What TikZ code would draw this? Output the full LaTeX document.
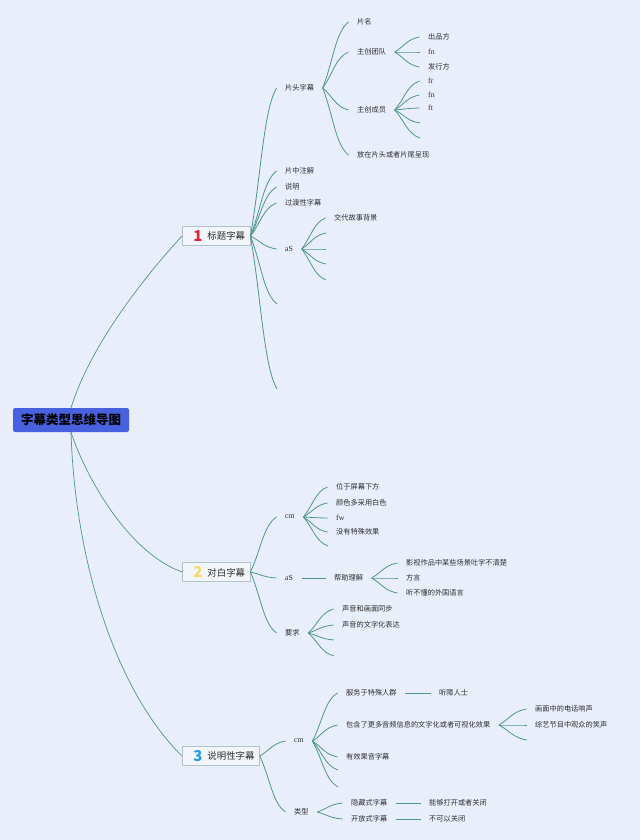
\documentclass[tikz,border=0pt]{standalone}
\usepackage{fontspec}
\setmainfont{Noto Sans CJK SC}
\newfontfamily\lat{Liberation Serif}
\usetikzlibrary{calc}
\definecolor{bg}{HTML}{E9EEFB}
\definecolor{ln}{HTML}{4E968C}
\definecolor{tx}{HTML}{2E2E2E}
\definecolor{rootc}{HTML}{4862DF}
\definecolor{boxf}{HTML}{F2F5FA}
\definecolor{boxd}{HTML}{B3C0CE}
\definecolor{one}{HTML}{E8213A}
\definecolor{two}{HTML}{F5D867}
\definecolor{three}{HTML}{2B9BE3}
\newcommand\numd[2]{\textcolor{#1}{\fontsize{15}{15}\selectfont\bfseries #2}}
\newcommand\boxlab[3]{\kern11pt\numd{#1}{#2}\kern5pt\raisebox{1.5pt}{#3}\kern5pt}
\tikzset{
 leaf/.style={anchor=west, inner xsep=8.5pt, inner ysep=1pt, font=\fontsize{7.2}{8}\selectfont, text=tx},
 latf/.style={leaf, font=\fontsize{7.8}{8}\selectfont\lat},
 mbox/.style={anchor=west, draw=boxd, fill=boxf, line width=0.7pt, minimum height=19pt, inner xsep=0pt, inner ysep=0pt, font=\fontsize{9.4}{10}\selectfont, text=tx},
 rootbox/.style={fill=rootc, rounded corners=2pt, inner xsep=8pt, inner ysep=0pt, minimum height=24pt, minimum width=116pt, font=\fontsize{12.5}{13}\selectfont\bfseries, text=black},
 link/.style={draw=ln, line width=0.8pt},
 rlink/.style={draw=ln, line width=0.7pt},
 br/.style={to path={let \p1=(\tikztostart), \p2=(\tikztotarget) in .. controls ({\x1+0.4*(\x2-\x1)},{\y1+0.4*(\y2-\y1)}) and ({\x2-0.5*(\x2-\x1)},{\y2-0.15*(\y2-\y1)}) .. (\tikztotarget)}}
}
\begin{document}
\begin{tikzpicture}[x=1pt,y=-1pt]
\fill[bg] (0,0) rectangle (640,840);
\useasboundingbox (0,0) rectangle (640,840);

% root and main boxes
\node[rootbox] (root) at (71,420) {字幕类型思维导图};
\node[mbox] (b1) at (182,236) {\boxlab{one}{1}{标题字幕}};
\node[mbox] (b2) at (182,572) {\boxlab{two}{2}{对白字幕}};
\node[mbox] (b3) at (182,756) {\boxlab{three}{3}{说明性字幕}};

% branch 1
\node[leaf] (a1) at (276.5,88) {片头字幕};
\node[leaf] (a2) at (276.5,171) {片中注解};
\node[leaf] (a3) at (276.5,187) {说明};
\node[leaf] (a4) at (276.5,203) {过渡性字幕};
\node[latf] (a5) at (276.5,249) {aS};
\coordinate (a6) at (277,304);
\coordinate (a7) at (277,389);

\node[leaf] (c1) at (348.5,22) {片名};
\node[leaf] (c2) at (348.5,52) {主创团队};
\node[leaf] (c3) at (348.5,110) {主创成员};
\node[leaf] (c4) at (348.5,155) {放在片头或者片尾呈现};

\node[leaf] (d1) at (419.5,37) {出品方};
\node[latf] (d2) at (419.5,52) {fn};
\node[leaf] (d3) at (419.5,67) {发行方};

\node[latf] (e1) at (419.5,81) {fr};
\node[latf] (e2) at (419.5,95) {fn};
\node[latf] (e3) at (419.5,108) {ft};
\coordinate (e4) at (420,123);
\coordinate (e5) at (420,138);

\node[leaf] (f1) at (325.5,218) {交代故事背景};
\coordinate (f2) at (326,233);
\coordinate (f3) at (326,249);
\coordinate (f4) at (326,264);
\coordinate (f5) at (326,280);

% branch 2
\node[latf] (g1) at (276.5,517) {cm};
\node[latf] (g2) at (276.5,578) {aS};
\node[leaf] (g3) at (276.5,633) {要求};

\node[leaf] (h1) at (327.5,487) {位于屏幕下方};
\node[leaf] (h2) at (327.5,503) {颜色多采用白色};
\node[latf] (h3) at (327.5,518) {fw};
\node[leaf] (h4) at (327.5,532) {没有特殊效果};
\coordinate (h5) at (328,546);

\node[leaf] (i0) at (325.5,578) {帮助理解};
\node[leaf] (i1) at (397.5,563) {影视作品中某些场景吐字不清楚};
\node[leaf] (i2) at (397.5,578) {方言};
\node[leaf] (i3) at (397.5,593) {听不懂的外国语言};

\node[leaf] (j1) at (333.5,609) {声音和画面同步};
\node[leaf] (j2) at (333.5,625) {声音的文字化表达};
\coordinate (j3) at (334,640);
\coordinate (j4) at (334,656);

% branch 3
\node[latf] (k1) at (285.5,741) {cm};
\node[leaf] (k2) at (285.5,812) {类型};

\node[leaf] (l1) at (337.5,693) {服务于特殊人群};
\node[leaf] (l2) at (337.5,725) {包含了更多音频信息的文字化或者可视化效果};
\node[leaf] (l3) at (337.5,757) {有效果音字幕};
\coordinate (l4) at (338,770);
\coordinate (l5) at (338,787);

\node[leaf] (m1) at (430.5,693) {听障人士};
\node[leaf] (n1) at (526.5,709) {画面中的电话响声};
\node[leaf] (n2) at (526.5,725) {综艺节目中观众的笑声};
\coordinate (n3) at (527,740);

\node[leaf] (o1) at (342.5,803) {隐藏式字幕};
\node[leaf] (o2) at (342.5,819) {开放式字幕};
\node[leaf] (p1) at (420.5,803) {能够打开或者关闭};
\node[leaf] (p2) at (420.5,819) {不可以关闭};

% root connectors
\draw[rlink] (root.north) .. controls (89,350) and (137,285) .. (b1.west);
\draw[rlink] (root.south) .. controls (85,475) and (127,552) .. (b2.west);
\draw[rlink] (root.south) .. controls (75,560) and (115,690) .. (b3.west);

% branch connectors
\foreach \t in {a1.west,a2.west,a3.west,a4.west,a5.west,a6,a7}
  \draw[link] (b1.east) to[br] (\t);
\foreach \t in {c1.west,c2.west,c3.west,c4.west}
  \draw[link] (a1.east) to[br] (\t);
\foreach \t in {d1.west,d2.west,d3.west}
  \draw[link] (c2.east) to[br] (\t);
\foreach \t in {e1.west,e2.west,e3.west,e4,e5}
  \draw[link] (c3.east) to[br] (\t);
\foreach \t in {f1.west,f2,f3,f4,f5}
  \draw[link] (a5.east) to[br] (\t);

\foreach \t in {g1.west,g2.west,g3.west}
  \draw[link] (b2.east) to[br] (\t);
\foreach \t in {h1.west,h2.west,h3.west,h4.west,h5}
  \draw[link] (g1.east) to[br] (\t);
\draw[link] (g2.east) -- (i0.west);
\foreach \t in {i1.west,i2.west,i3.west}
  \draw[link] (i0.east) to[br] (\t);
\foreach \t in {j1.west,j2.west,j3,j4}
  \draw[link] (g3.east) to[br] (\t);

\foreach \t in {k1.west,k2.west}
  \draw[link] (b3.east) to[br] (\t);
\foreach \t in {l1.west,l2.west,l3.west,l4,l5}
  \draw[link] (k1.east) to[br] (\t);
\draw[link] (l1.east) -- (m1.west);
\foreach \t in {n1.west,n2.west,n3}
  \draw[link] (l2.east) to[br] (\t);
\foreach \t in {o1.west,o2.west}
  \draw[link] (k2.east) to[br] (\t);
\draw[link] (o1.east) -- (p1.west);
\draw[link] (o2.east) -- (p2.west);
\end{tikzpicture}
\end{document}
